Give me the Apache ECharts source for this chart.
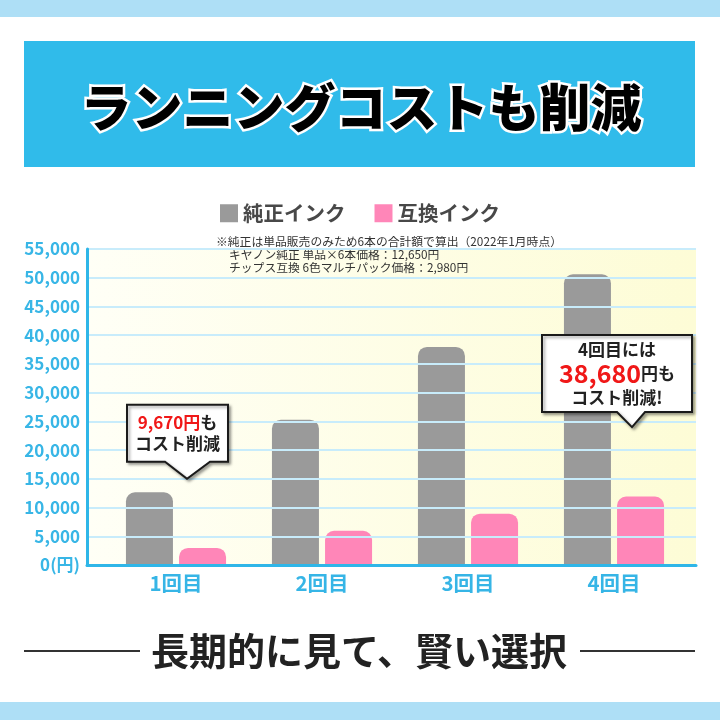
<!DOCTYPE html>
<html><head><meta charset="utf-8">
<style>html,body{margin:0;padding:0;background:#fff}#c{width:720px;height:720px}</style>
<script src="https://cdn.jsdelivr.net/npm/echarts@6/dist/echarts.min.js"></script>
</head><body><div id="c"></div>
<script>
const categories = ['1回目', '2回目', '3回目', '4回目'];
const genuineName = '純正インク';
const compatName = '互換インク';
const genuine = [12650, 25300, 37950, 50600];
const compatible = [2980, 5960, 8940, 11920];
const yMin = 0, yMax = 55000, yStep = 5000;
const titleText = 'ランニングコストも削減';
const footerText = '長期的に見て、賢い選択';
const notes = ['※純正は単品販売のみため6本の合計額で算出（2022年1月時点）',
  'キヤノン純正 単品×6本価格：12,650円',
  'チップス互換 6色マルチパック価格：2,980円'];

const FONT = '"Noto Sans CJK JP", "Noto Sans", sans-serif';
const BLUE = '#2fb6e8';
const GREY = '#9a9a9a';
const PINK = '#ff86b8';
const RED = '#f01818';
const fmt = n => n.toLocaleString('en-US');

const chart = echarts.init(document.getElementById('c'), null, {renderer: 'canvas'});

const baseGraphics = [
  {id: 'bandTop', type: 'rect', shape: {x: 0, y: 0, width: 720, height: 17}, style: {fill: '#aedff6'}, z: 0},
  {id: 'bandBot', type: 'rect', shape: {x: 0, y: 702, width: 720, height: 18}, style: {fill: '#aedff6'}, z: 0},
  {id: 'hdr', type: 'rect', shape: {x: 24, y: 41, width: 671, height: 126}, style: {fill: '#30bbea'}, z: 0},
  {id: 'ttl', type: 'text', x: 361, y: 108, z: 5,
    style: {text: titleText, fill: '#000', stroke: '#fff', lineWidth: 5, font: '900 51px ' + FONT,
      textAlign: 'center', textVerticalAlign: 'middle',
      shadowColor: 'rgba(0,0,0,0.45)', shadowBlur: 2, shadowOffsetX: 1, shadowOffsetY: 1}},
  {id: 'n0', type: 'text', x: 216, y: 242, style: {text: notes[0], fill: '#333', font: '11.8px ' + FONT, textVerticalAlign: 'middle'}},
  {id: 'n1', type: 'text', x: 229, y: 255, style: {text: notes[1], fill: '#333', font: '11.8px ' + FONT, textVerticalAlign: 'middle'}},
  {id: 'n2', type: 'text', x: 229, y: 268, style: {text: notes[2], fill: '#333', font: '11.8px ' + FONT, textVerticalAlign: 'middle'}},
  {id: 'ftr', type: 'text', x: 359, y: 651,
    style: {text: footerText, fill: '#222', font: 'bold 38px ' + FONT, textAlign: 'center', textVerticalAlign: 'middle'}},
  {id: 'fl', type: 'line', shape: {x1: 24, y1: 651, x2: 140, y2: 651}, style: {stroke: '#333', lineWidth: 2}},
  {id: 'fr', type: 'line', shape: {x1: 580, y1: 651, x2: 695, y2: 651}, style: {stroke: '#333', lineWidth: 2}}
];

chart.setOption({
  animation: false,
  textStyle: {fontFamily: FONT},
  legend: {
    data: [genuineName, compatName], left: 220, top: 203, padding: 0,
    itemWidth: 18, itemHeight: 18, itemGap: 29, icon: 'rect',
    textStyle: {fontSize: 20.5, color: '#484848', fontWeight: 'bold', fontFamily: FONT}
  },
  grid: [
    {left: 87, right: 24, top: 249, bottom: 155, show: true, borderWidth: 0,
      backgroundColor: new echarts.graphic.LinearGradient(0, 0, 1, 0, [
        {offset: 0, color: '#fffff6'}, {offset: 1, color: '#fdfcd6'}])},
    {left: 103, right: 33, top: 249, bottom: 155}
  ],
  xAxis: [
    {gridIndex: 0, type: 'value', min: 0, max: 1, z: 5,
      axisLine: {show: true, onZero: false, lineStyle: {color: BLUE, width: 3}},
      axisTick: {show: false}, axisLabel: {show: false}, splitLine: {show: false}},
    {gridIndex: 1, type: 'category', data: categories,
      axisLine: {show: false}, axisTick: {show: false},
      axisLabel: {fontSize: 20.5, fontWeight: 'bold', color: '#36b5e6', margin: 8, fontFamily: FONT}}
  ],
  yAxis: [
    {gridIndex: 0, type: 'value', min: yMin, max: yMax, interval: yStep, z: 5,
      axisLine: {show: true, lineStyle: {color: BLUE, width: 3}},
      axisTick: {show: false},
      splitLine: {show: true, lineStyle: {color: '#c8ecfb', width: 2}},
      axisLabel: {fontSize: 17, fontWeight: 'bold', color: '#38b6e6', margin: 7, fontFamily: FONT,
        formatter: v => v === 0 ? '0(円)' : fmt(v)}},
    {gridIndex: 1, type: 'value', min: yMin, max: yMax, interval: yStep, show: false}
  ],
  series: [
    {name: genuineName, type: 'bar', xAxisIndex: 1, yAxisIndex: 1, data: genuine,
      barWidth: 47, barGap: '13%', itemStyle: {color: GREY, borderRadius: [9, 9, 0, 0]}},
    {name: compatName, type: 'bar', xAxisIndex: 1, yAxisIndex: 1, data: compatible,
      barWidth: 47, itemStyle: {color: PINK, borderRadius: [9, 9, 0, 0]}}
  ],
  graphic: baseGraphics
});

// Callouts anchored to data positions
const callouts = [
  {cat: 0, tipValue: 15000, dx: 11, box: [-60, 41, -74, -17], base: [-22, 23],
    text: '{r|' + fmt(genuine[0] - compatible[0]) + '円}{k|も}\n{k|コスト削減}',
    rich: {r: {fontSize: 17, fontWeight: 'bold', fill: RED, fontFamily: FONT, lineHeight: 21},
           k: {fontSize: 17, fontWeight: 'bold', fill: '#222', fontFamily: FONT, lineHeight: 21}}},
  {cat: 3, tipValue: 24000, dx: 18, box: [-90, 60, -92, -15], base: [-15, 13],
    text: '{k|4回目には}\n{big|' + fmt(genuine[3] - compatible[3]) + '}{k|円も}\n{k|コスト削減!}',
    rich: {big: {fontSize: 25, fontWeight: 'bold', fill: RED, fontFamily: FONT, lineHeight: 24},
           k: {fontSize: 17, fontWeight: 'bold', fill: '#222', fontFamily: FONT, lineHeight: 24}}}
];

const extra = [];
callouts.forEach((c, i) => {
  const p = chart.convertToPixel({gridIndex: 1}, [c.cat, c.tipValue]);
  const tx = p[0] + c.dx, ty = p[1];
  const L = tx + c.box[0], R = tx + c.box[1], T = ty + c.box[2], B = ty + c.box[3];
  extra.push({id: 'cb' + i, type: 'polygon', z: 20,
    shape: {points: [[L, T], [R, T], [R, B], [tx + c.base[1], B], [tx, ty], [tx + c.base[0], B], [L, B]]},
    style: {fill: '#fff', stroke: '#1a1a1a', lineWidth: 2, lineJoin: 'miter',
      shadowColor: 'rgba(0,0,0,0.35)', shadowBlur: 3, shadowOffsetX: 2, shadowOffsetY: 2}});
  extra.push({id: 'ct' + i, type: 'text', z: 21, x: (L + R) / 2, y: (T + B) / 2,
    style: {text: c.text, rich: c.rich, textAlign: 'center', textVerticalAlign: 'middle', align: 'center', verticalAlign: 'middle'}});
});
chart.setOption({graphic: baseGraphics.concat(extra)});
</script>
</body></html>
